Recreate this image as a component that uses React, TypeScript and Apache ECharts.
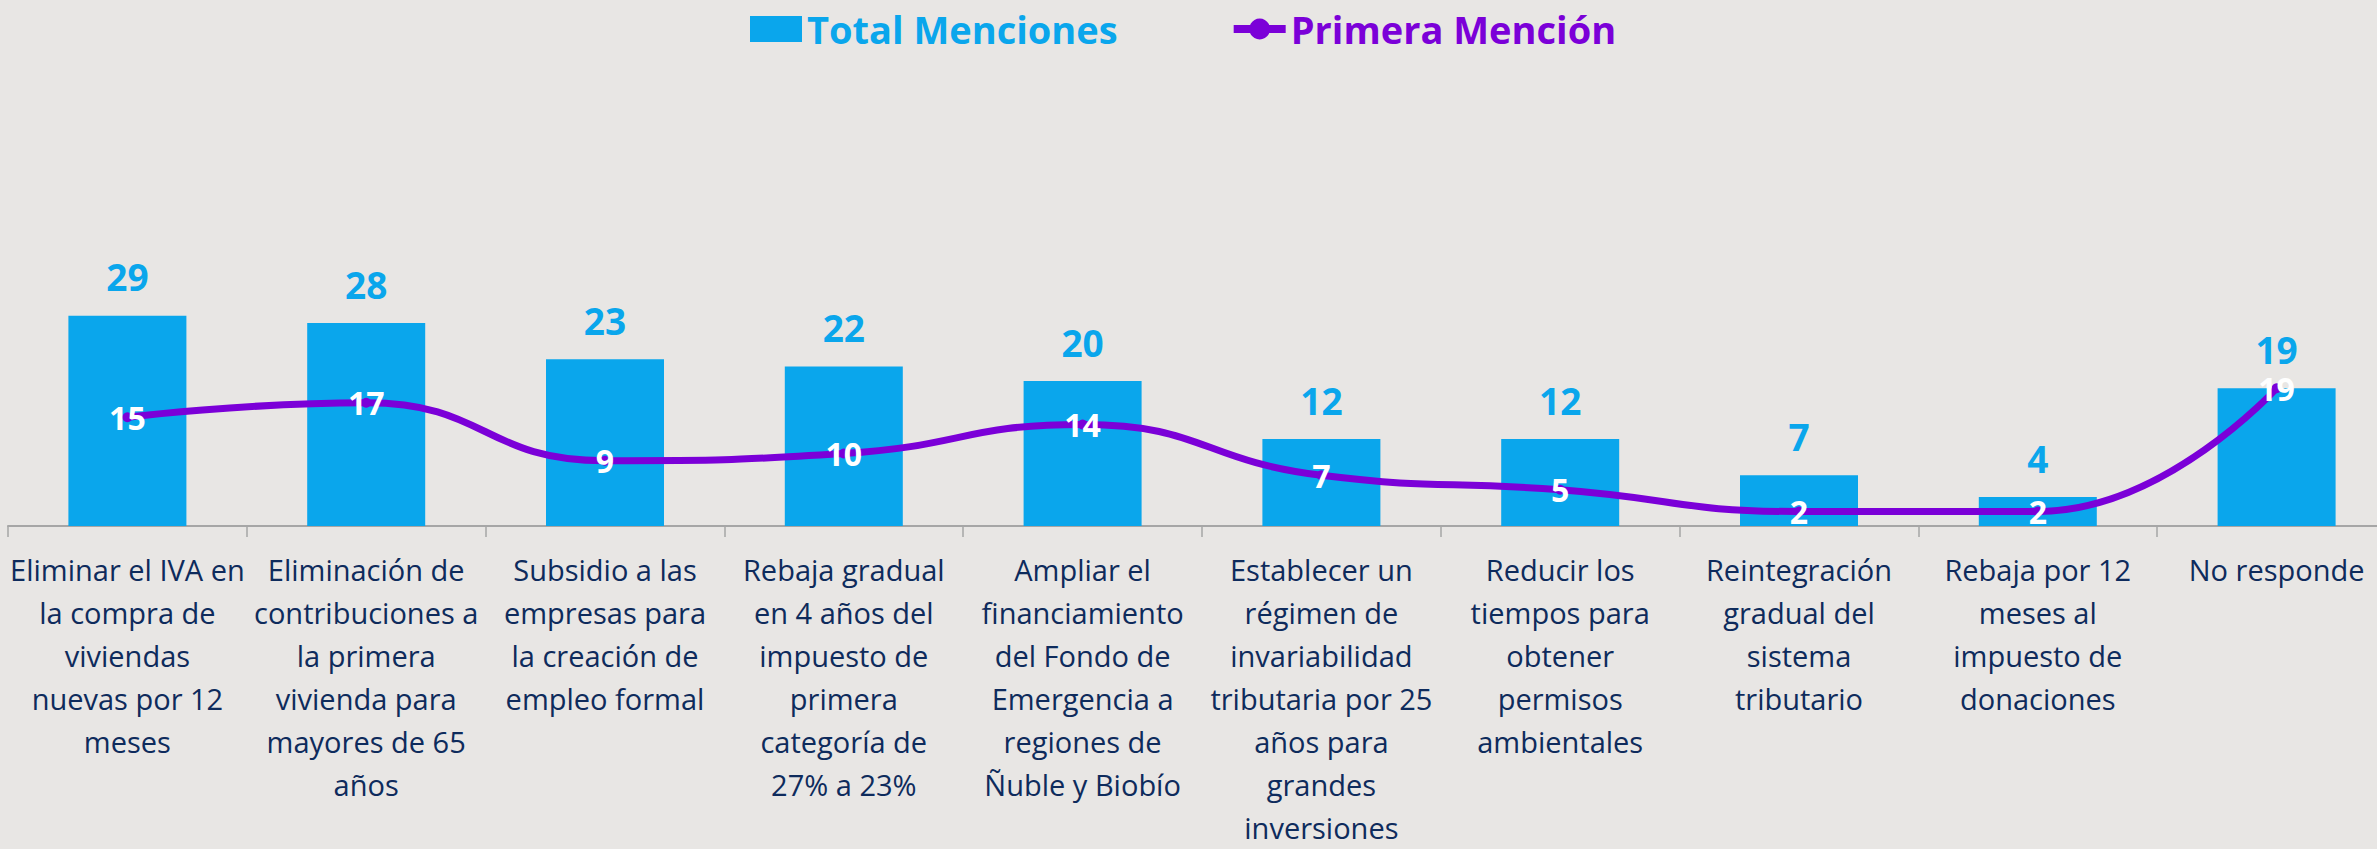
import React, { useEffect, useRef } from "react";
import * as echarts from "echarts";

const categories: string[] = [
  "Eliminar el IVA en\nla compra de\nviviendas\nnuevas por 12\nmeses",
  "Eliminación de\ncontribuciones a\nla primera\nvivienda para\nmayores de 65\naños",
  "Subsidio a las\nempresas para\nla creación de\nempleo formal",
  "Rebaja gradual\nen 4 años del\nimpuesto de\nprimera\ncategoría de\n27% a 23%",
  "Ampliar el\nfinanciamiento\ndel Fondo de\nEmergencia a\nregiones de\nÑuble y Biobío",
  "Establecer un\nrégimen de\ninvariabilidad\ntributaria por 25\naños para\ngrandes\ninversiones",
  "Reducir los\ntiempos para\nobtener\npermisos\nambientales",
  "Reintegración\ngradual del\nsistema\ntributario",
  "Rebaja por 12\nmeses al\nimpuesto de\ndonaciones",
  "No responde",
];

const totalMenciones: number[] = [29, 28, 23, 22, 20, 12, 12, 7, 4, 19];
const primeraMencion: number[] = [15, 17, 9, 10, 14, 7, 5, 2, 2, 19];

const seriesNames = ["Total Menciones", "Primera Mención"];

const BLUE = "#0AA6EC";
const PURPLE = "#7B00D8";
const NAVY = "#0E2B5C";
const FONT = "'Open Sans', 'Noto Sans', sans-serif";

export default function App() {
  const ref = useRef<HTMLDivElement>(null);
  useEffect(() => {
    if (!ref.current) return;
    const chart = echarts.init(ref.current, undefined, { renderer: "svg" });
    chart.setOption({
      animation: false,
      backgroundColor: "#E8E6E4",
      legend: {
        top: 5,
        left: 745,
        itemWidth: 52,
        itemHeight: 26,
        itemGap: 112,
        data: [
          {
            name: seriesNames[0],
            icon: "rect",
            textStyle: { color: BLUE, fontSize: 38, fontWeight: "bold", fontFamily: FONT },
          },
          {
            name: seriesNames[1],
            lineStyle: { width: 8 },
            textStyle: { color: PURPLE, fontSize: 38, fontWeight: "bold", fontFamily: FONT },
          },
        ],
      },
      grid: { left: 8, top: 236, width: 2388, bottom: 317, containLabel: false },
      xAxis: {
        type: "category",
        data: categories,
        axisLine: { lineStyle: { color: "#A6A6A6", width: 2 } },
        axisTick: { show: true, length: 11, lineStyle: { color: "#A6A6A6", width: 1.5 } },
        axisLabel: {
          interval: 0,
          color: NAVY,
          fontSize: 29,
          lineHeight: 43,
          margin: 22,
          fontFamily: FONT,
          align: "center",
        },
      },
      yAxis: {
        type: "value",
        min: 0,
        max: 40,
        show: false,
        splitLine: { show: false },
      },
      series: [
        {
          name: seriesNames[0],
          type: "bar",
          data: totalMenciones,
          barWidth: 118,
          itemStyle: { color: BLUE },
          label: {
            show: true,
            position: "top",
            distance: 22,
            color: BLUE,
            fontSize: 37,
            lineHeight: 34,
            fontWeight: "bold",
            fontFamily: FONT,
          },
          z: 2,
        },
        {
          name: seriesNames[1],
          type: "line",
          data: primeraMencion,
          smooth: 0.5,
          symbol: "circle",
          symbolSize: 10,
          itemStyle: { color: PURPLE },
          lineStyle: { color: PURPLE, width: 7 },
          label: {
            show: true,
            position: "inside",
            color: "#FFFFFF",
            fontSize: 32,
            lineHeight: 28,
            fontWeight: "bold",
            fontFamily: FONT,
          },
          z: 3,
        },
      ],
    });
    return () => chart.dispose();
  }, []);
  return (
    <div style={{ position: "absolute", left: 0, top: 0, width: 2377, height: 849, overflow: "hidden" }}>
      <div ref={ref} style={{ position: "absolute", left: 0, top: 0, width: 2400, height: 849 }} />
    </div>
  );
}
